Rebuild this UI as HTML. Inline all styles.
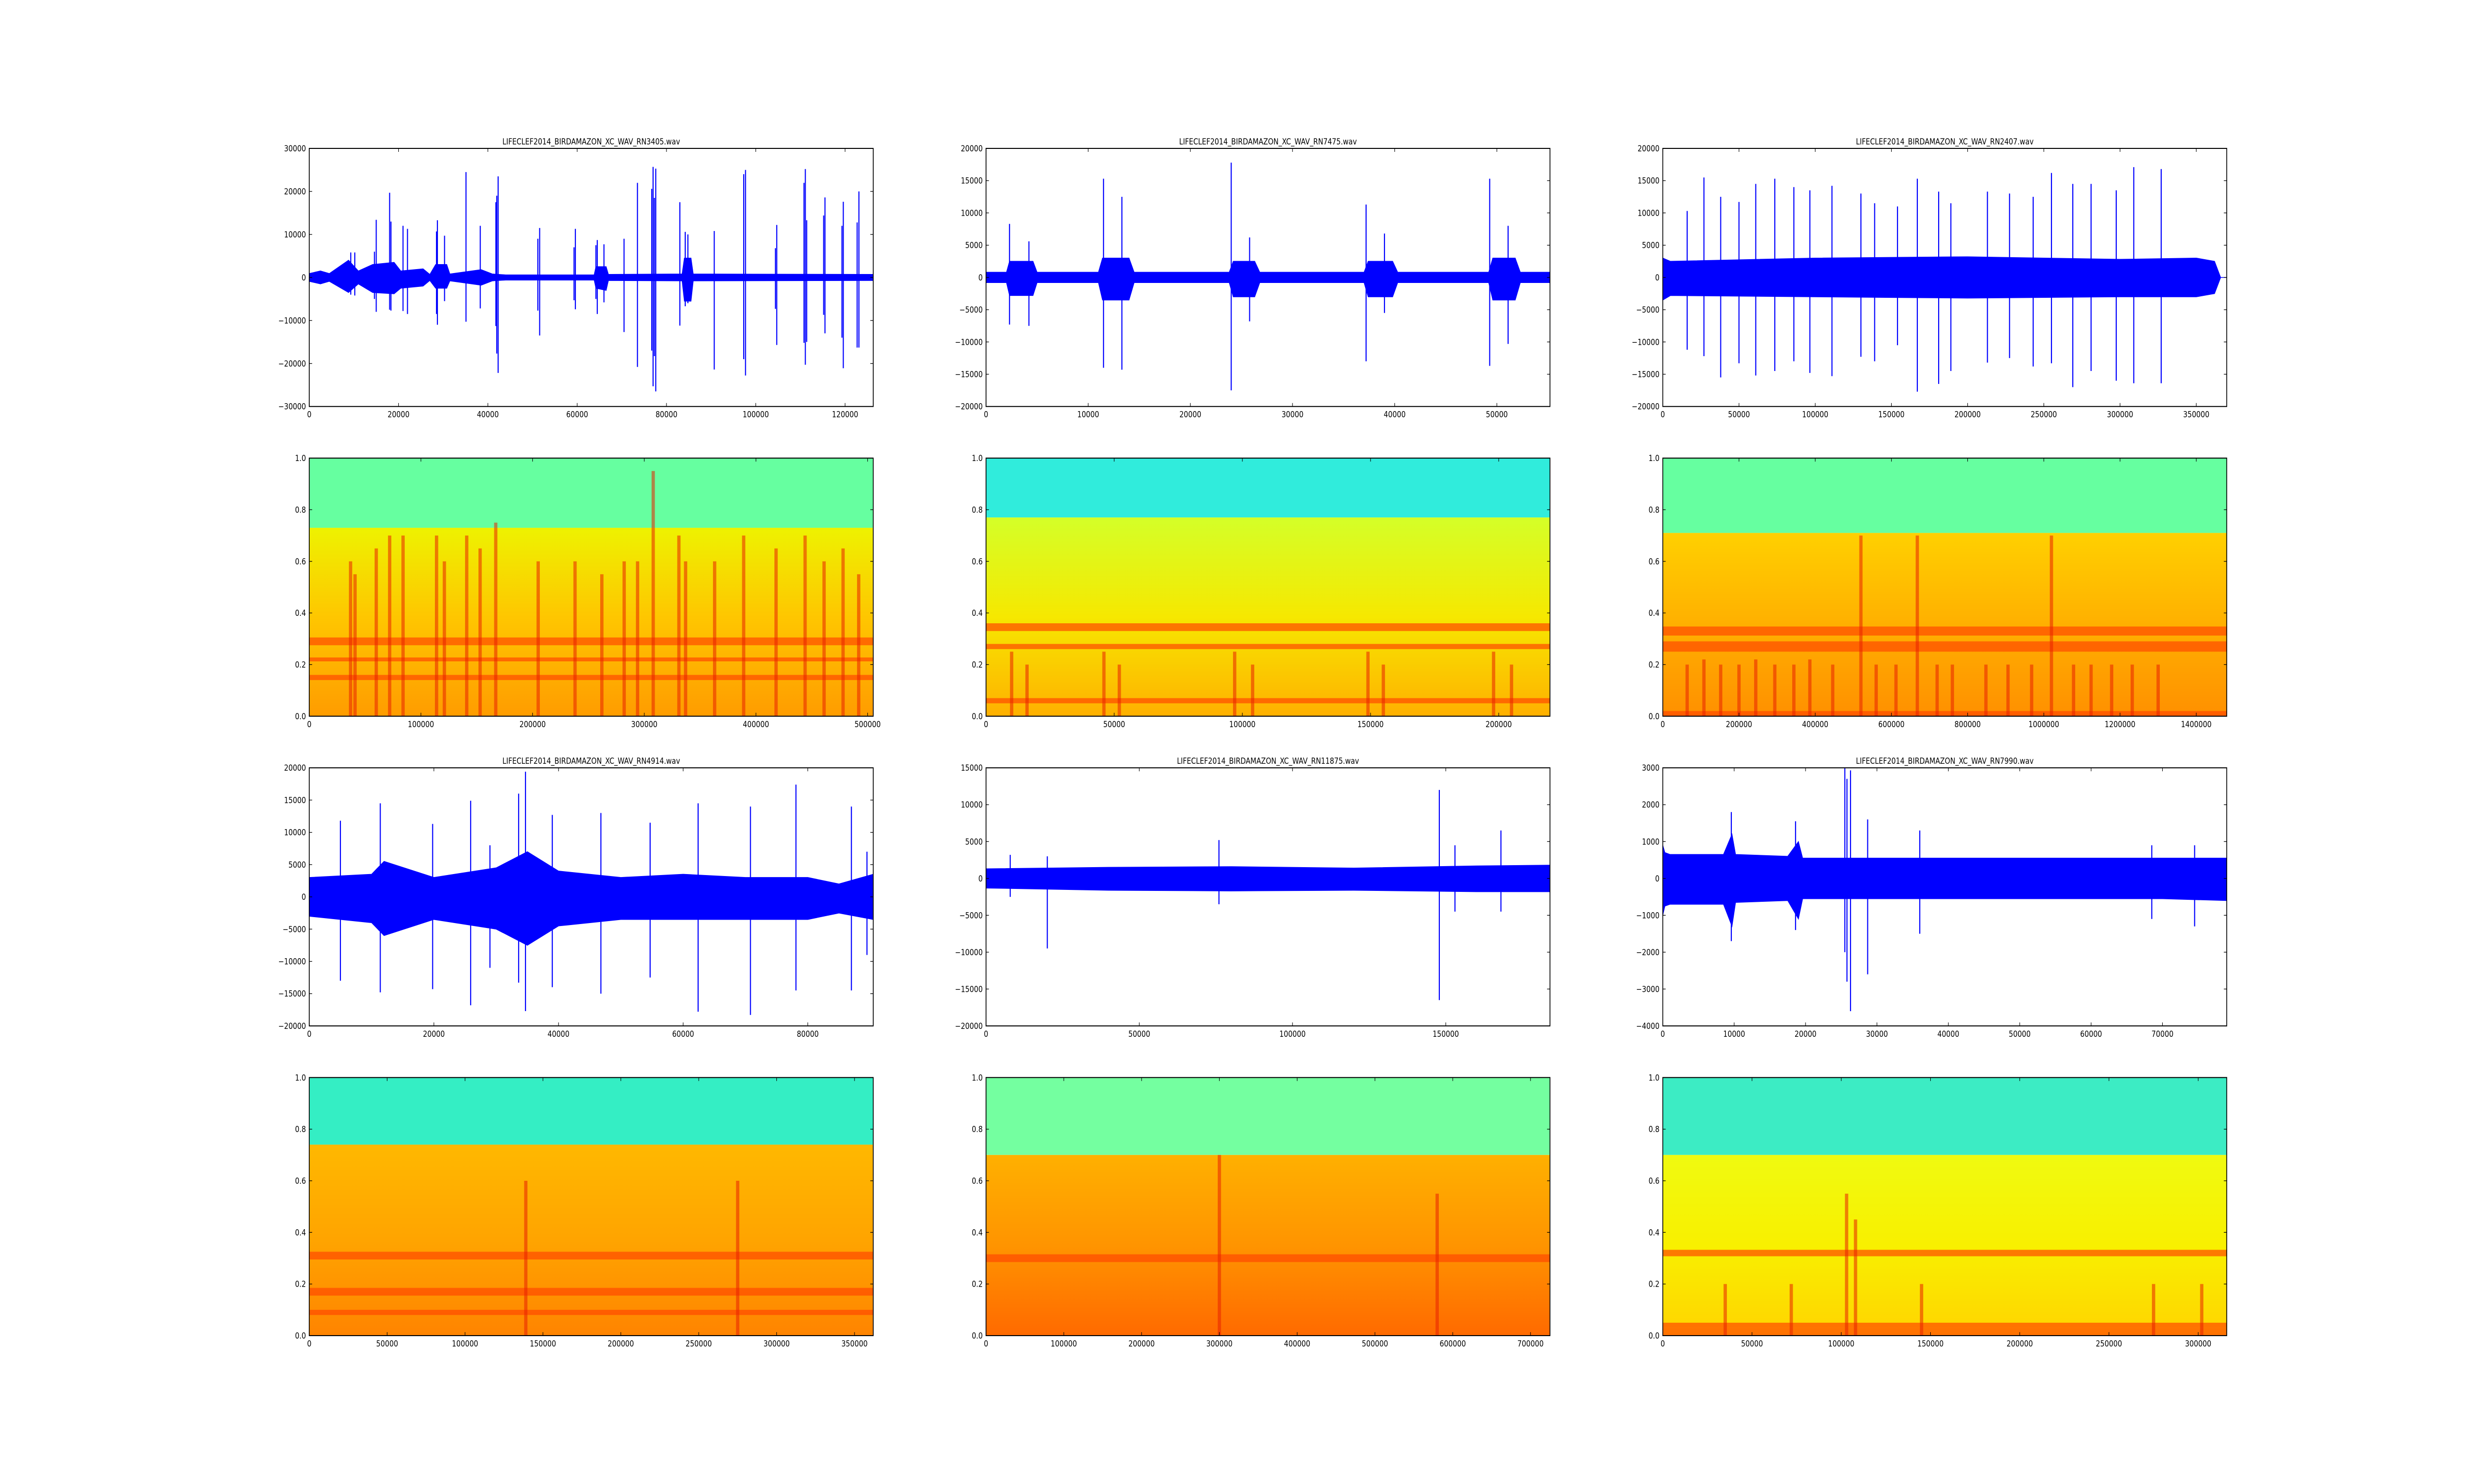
<!DOCTYPE html>
<html><head><meta charset="utf-8"><title>Bird recordings: waveforms and spectrograms</title>
<style>
html,body{margin:0;padding:0;background:#fff;width:100%;height:100%;overflow:hidden;}
svg{display:block;width:100vw;height:100vh;}
text{font-family:"DejaVu Sans","Liberation Sans",sans-serif;font-size:16.7px;fill:#000;}
</style></head>
<body>
<svg id="fig" xmlns="http://www.w3.org/2000/svg" viewBox="0 0 6000 3000" preserveAspectRatio="none">
<rect x="0" y="0" width="6000" height="3000" fill="#fff"/>
</svg>
<script>
// ---------- waveform data ----------
const w1Title = "LIFECLEF2014_BIRDAMAZON_XC_WAV_RN3405.wav";
const w1XTicks = [0,20000,40000,60000,80000,100000,120000];
const w1YTicks = [-30000,-20000,-10000,0,10000,20000,30000];
const w1XRange = [0,126300];
const w1EnvX = [0,2500,4500,8800,11000,14200,19000,20500,25500,27000,28300,30800,31500,38500,41000,44000,63800,64200,66500,67000,83500,84000,85500,86000,126300];
const w1EnvUp = [900,1500,900,4000,1500,3000,3500,1500,2000,700,3000,3000,800,1800,800,600,600,2500,2500,700,800,4500,4500,800,700];
const w1EnvDown = [-900,-1500,-900,-3500,-1500,-3500,-3800,-2500,-2000,-700,-2500,-2500,-800,-1800,-800,-600,-600,-2500,-3000,-700,-800,-5500,-5500,-800,-700];
const w1SpikeX = [9300,10200,14600,15000,18000,18300,21000,22000,28500,28700,30300,35100,38300,41800,42000,42300,51200,51600,59300,59600,64200,64500,66000,70500,73500,76700,77000,77300,77600,83000,84200,84800,90700,97300,97700,104400,104700,110800,111100,111400,115200,115500,119300,119600,122700,123100];
const w1SpikeUp = [5800,5800,6000,13400,19700,13000,12000,11300,10700,13300,9700,24500,12000,17500,19000,23500,9000,11500,7000,11300,7500,8700,7700,9000,22000,20600,25700,18500,25300,17500,10600,10000,10800,24000,25000,6800,12200,22000,25200,13300,14400,18600,12000,17600,12800,20000];
const w1SpikeDown = [-4000,-4200,-5000,-8000,-7500,-7700,-7800,-8500,-8500,-11000,-5500,-10300,-7200,-11300,-17700,-22200,-7700,-13500,-5300,-7400,-5000,-8500,-5800,-12700,-20800,-17000,-25300,-18300,-26500,-11200,-6700,-6000,-21400,-19000,-22800,-7300,-15700,-15200,-20300,-15000,-8700,-13000,-14000,-21100,-16300,-16300];

const w2Title = "LIFECLEF2014_BIRDAMAZON_XC_WAV_RN7475.wav";
const w2XTicks = [0,10000,20000,30000,40000,50000];
const w2YTicks = [-20000,-15000,-10000,-5000,0,5000,10000,15000,20000];
const w2XRange = [0,55200];
const w2EnvX = [0,2000,2300,4600,5000,11000,11400,14000,14500,23800,24200,26300,26800,37000,37400,39800,40300,49200,49600,51800,52300,55200];
const w2EnvUp = [800,800,2500,2500,800,800,3000,3000,800,800,2500,2500,800,800,2500,2500,800,800,3000,3000,800,800];
const w2EnvDown = [-800,-800,-2800,-2800,-800,-800,-3500,-3500,-800,-800,-3000,-3000,-800,-800,-3000,-3000,-800,-800,-3500,-3500,-800,-800];
const w2SpikeX = [2300,4200,11500,13300,24000,25800,37200,39000,49300,51100];
const w2SpikeUp = [8300,5600,15300,12500,17800,6200,11300,6800,15300,8000];
const w2SpikeDown = [-7300,-7500,-14000,-14300,-17500,-6800,-13000,-5500,-13700,-10300];

const w3Title = "LIFECLEF2014_BIRDAMAZON_XC_WAV_RN2407.wav";
const w3XTicks = [0,50000,100000,150000,200000,250000,300000,350000];
const w3YTicks = [-20000,-15000,-10000,-5000,0,5000,10000,15000,20000];
const w3XRange = [0,370000];
const w3EnvX = [0,5000,100000,200000,300000,350000,362000,366000,370000];
const w3EnvUp = [3000,2500,3000,3200,2800,3000,2500,0,0];
const w3EnvDown = [-3500,-2800,-3000,-3200,-3000,-3000,-2500,0,0];
const w3SpikeX = [16000,27000,38000,50000,61000,73500,86000,96500,111000,130000,139000,154000,167000,181000,189000,213000,227500,243000,255000,269000,281000,297500,309000,327000];
const w3SpikeUp = [10300,15500,12500,11700,14500,15300,14000,13500,14200,13000,11500,11000,15300,13300,11500,13300,13000,12500,16200,14500,14500,13500,17100,16800];
const w3SpikeDown = [-11200,-12200,-15500,-13300,-15200,-14500,-13000,-14800,-15300,-12300,-13000,-10500,-17700,-16500,-14500,-13200,-12500,-13800,-13300,-17000,-14500,-16000,-16400,-16400];

const w4Title = "LIFECLEF2014_BIRDAMAZON_XC_WAV_RN4914.wav";
const w4XTicks = [0,20000,40000,60000,80000];
const w4YTicks = [-20000,-15000,-10000,-5000,0,5000,10000,15000,20000];
const w4XRange = [0,90500];
const w4EnvX = [0,10000,12000,20000,30000,35000,40000,50000,60000,70000,80000,85000,90500];
const w4EnvUp = [3000,3500,5500,3000,4500,7000,4000,3000,3500,3000,3000,2000,3500];
const w4EnvDown = [-3000,-4000,-6000,-3500,-5000,-7500,-4500,-3500,-3500,-3500,-3500,-2500,-3500];
const w4SpikeX = [5000,11400,19800,25900,29000,33600,34700,39000,46800,54700,62400,70800,78100,87000,89500];
const w4SpikeUp = [11800,14500,11300,14900,8000,16000,19400,12700,13000,11500,14500,14000,17400,14000,7000];
const w4SpikeDown = [-13000,-14800,-14300,-16800,-11000,-13300,-17700,-14000,-15000,-12500,-17800,-18300,-14500,-14500,-9000];

const w5Title = "LIFECLEF2014_BIRDAMAZON_XC_WAV_RN11875.wav";
const w5XTicks = [0,50000,100000,150000];
const w5YTicks = [-20000,-15000,-10000,-5000,0,5000,10000,15000];
const w5XRange = [0,184000];
const w5EnvX = [0,40000,80000,120000,160000,184000];
const w5EnvUp = [1300,1500,1600,1400,1700,1800];
const w5EnvDown = [-1300,-1600,-1700,-1600,-1800,-1800];
const w5SpikeX = [7900,20000,76000,147900,153000,168000];
const w5SpikeUp = [3200,3000,5200,12000,4500,6500];
const w5SpikeDown = [-2500,-9500,-3500,-16500,-4500,-4500];

const w6Title = "LIFECLEF2014_BIRDAMAZON_XC_WAV_RN7990.wav";
const w6XTicks = [0,10000,20000,30000,40000,50000,60000,70000];
const w6YTicks = [-4000,-3000,-2000,-1000,0,1000,2000,3000];
const w6XRange = [0,79000];
const w6EnvX = [0,300,1000,8500,9700,10200,17500,19000,19600,70000,79000];
const w6EnvUp = [900,700,650,650,1200,650,600,1000,550,550,550];
const w6EnvDown = [-1000,-750,-700,-700,-1300,-650,-600,-1100,-550,-550,-600];
const w6SpikeX = [9600,18600,25500,25800,26300,28700,36000,68500,74500];
const w6SpikeUp = [1800,1550,3000,2700,2930,1600,1300,900,900];
const w6SpikeDown = [-1700,-1400,-2000,-2800,-3600,-2600,-1500,-1100,-1300];

// ---------- spectrogram data ----------
const sYTicks = [0.0,0.2,0.4,0.6,0.8,1.0];
const s1XTicks = [0,100000,200000,300000,400000,500000];
const s1XMax = 505000;
const s1Boundary = 0.73;
const s1Colors = ["#66ffa0","#eef200","#ffc400","#ff9c00"];
const s1BandF = [0.29,0.15,0.22];
const s1BandW = [0.03,0.02,0.015];
const s1StreakX = [37000,41000,60000,72000,84000,114000,121000,141000,153000,167000,205000,238000,262000,282000,294000,308000,331000,337000,363000,389000,418000,444000,461000,478000,492000];
const s1StreakTop = [0.6,0.55,0.65,0.7,0.7,0.7,0.6,0.7,0.65,0.75,0.6,0.6,0.55,0.6,0.6,0.95,0.7,0.6,0.6,0.7,0.65,0.7,0.6,0.65,0.55];

const s2XTicks = [0,50000,100000,150000,200000];
const s2XMax = 220000;
const s2Boundary = 0.77;
const s2Colors = ["#30ecdc","#d4ff28","#f6e800","#ffb000"];
const s2BandF = [0.345,0.27,0.06];
const s2BandW = [0.03,0.02,0.02];
const s2StreakX = [10000,16000,46000,52000,97000,104000,149000,155000,198000,205000];
const s2StreakTop = [0.25,0.2,0.25,0.2,0.25,0.2,0.25,0.2,0.25,0.2];

const s3XTicks = [0,200000,400000,600000,800000,1000000,1200000,1400000];
const s3XMax = 1480000;
const s3Boundary = 0.71;
const s3Colors = ["#66ffa0","#ffd000","#ffb000","#ff9000"];
const s3BandF = [0.33,0.27,0.01];
const s3BandW = [0.035,0.04,0.02];
const s3StreakX = [64000,108000,152000,200000,244000,294000,344000,386000,446000,520000,560000,612000,668000,720000,760000,848000,906000,968000,1020000,1078000,1124000,1178000,1232000,1300000];
const s3StreakTop = [0.2,0.22,0.2,0.2,0.22,0.2,0.2,0.22,0.2,0.7,0.2,0.2,0.7,0.2,0.2,0.2,0.2,0.2,0.7,0.2,0.2,0.2,0.2,0.2];

const s4XTicks = [0,50000,100000,150000,200000,250000,300000,350000];
const s4XMax = 362000;
const s4Boundary = 0.74;
const s4Colors = ["#34eec4","#ffb800","#ffa400","#ff8400"];
const s4BandF = [0.31,0.09,0.17];
const s4BandW = [0.03,0.02,0.03];
const s4StreakX = [139000,275000];
const s4StreakTop = [0.6,0.6];

const s5XTicks = [0,100000,200000,300000,400000,500000,600000,700000];
const s5XMax = 725000;
const s5Boundary = 0.70;
const s5Colors = ["#74ffa0","#ffb000","#ff9400","#ff6a00"];
const s5BandF = [0.30];
const s5BandW = [0.03];
const s5StreakX = [300000,580000];
const s5StreakTop = [0.7,0.55];

const s6XTicks = [0,50000,100000,150000,200000,250000,300000];
const s6XMax = 316000;
const s6Boundary = 0.70;
const s6Colors = ["#3cecc4","#f0fa10","#f8f000","#ffd400"];
const s6BandF = [0.32,0.015,0.04];
const s6BandW = [0.025,0.03,0.02];
const s6StreakX = [35000,72000,103000,108000,145000,275000,302000];
const s6StreakTop = [0.2,0.2,0.55,0.45,0.2,0.2,0.2];

// ---------- layout ----------
const AW = 1367.74, AH = 521.74;
const colX = [750, 2391.3, 4032.6];
const rowY = [300, 926.1, 1552.2, 2178.3];
const NS = "http://www.w3.org/2000/svg";
const svg = document.getElementById('fig');

function mk(tag, attrs, parent) {
  const e = document.createElementNS(NS, tag);
  for (const k in attrs) e.setAttribute(k, attrs[k]);
  (parent || svg).appendChild(e);
  return e;
}
function fmt(v) {
  return (v < 0 ? "\u2212" : "") + Math.abs(v);
}

function drawAxes(g, L, T, xmin, xmax, ymin, ymax, xTicks, yTicks, isFloatY, name) {
  const sx = v => L + (v - xmin) / (xmax - xmin) * AW;
  const sy = v => T + (ymax - v) / (ymax - ymin) * AH;
  const frame = mk('rect', {x: L, y: T, width: AW, height: AH, fill: 'none', stroke: '#000', 'stroke-width': 2}, g);
  
  
  xTicks.forEach(v => {
    const x = sx(v);
    mk('line', {x1: x, y1: T + AH, x2: x, y2: T + AH - 7, stroke: '#000', 'stroke-width': 1.3}, g);
    mk('line', {x1: x, y1: T, x2: x, y2: T + 7, stroke: '#000', 'stroke-width': 1.3}, g);
    const t = mk('text', {x: x, y: T + AH + 22, 'text-anchor': 'middle'}, g);
    t.textContent = fmt(v);
    
    
  });
  yTicks.forEach(v => {
    const y = sy(v);
    mk('line', {x1: L, y1: y, x2: L + 7, y2: y, stroke: '#000', 'stroke-width': 1.3}, g);
    mk('line', {x1: L + AW, y1: y, x2: L + AW - 7, y2: y, stroke: '#000', 'stroke-width': 1.3}, g);
    const t = mk('text', {x: L - 8, y: y + 6, 'text-anchor': 'end'}, g);
    t.textContent = isFloatY ? v.toFixed(1) : fmt(v);
    
    
  });
}

function drawWave(idx, r, c, title, xr, xTicks, yTicks, envX, envUp, envDown, spX, spUp, spDown) {
  const L = colX[c], T = rowY[r];
  const ymin = yTicks[0], ymax = yTicks[yTicks.length - 1];
  const g = mk('g', {});
  
  
  const sx = v => L + (v - xr[0]) / (xr[1] - xr[0]) * AW;
  const sy = v => T + (ymax - v) / (ymax - ymin) * AH;
  let d = '';
  envX.forEach((x, i) => { d += (i ? 'L' : 'M') + sx(x).toFixed(1) + ' ' + sy(envUp[i]).toFixed(1); });
  for (let i = envX.length - 1; i >= 0; i--) d += 'L' + sx(envX[i]).toFixed(1) + ' ' + sy(envDown[i]).toFixed(1);
  d += 'Z';
  const env = mk('path', {d: d, fill: '#0000ff', stroke: '#0000ff', 'stroke-width': 1.5}, g);
  
  
  spX.forEach((x, i) => {
    const ln = mk('line', {x1: sx(x), y1: sy(spUp[i]), x2: sx(x), y2: sy(spDown[i]), stroke: '#0000ff', 'stroke-width': 2.6}, g);
    
    
  });
  drawAxes(g, L, T, xr[0], xr[1], ymin, ymax, xTicks, yTicks, false, 'waveform-' + idx);
  const t = mk('text', {x: L + AW / 2, y: T - 8, 'text-anchor': 'middle'}, g);
  t.textContent = title;
  
  
}

function drawSpec(idx, r, c, xmax, xTicks, boundary, colors, bandF, bandW, stX, stTop) {
  const L = colX[c], T = rowY[r];
  const g = mk('g', {});
  
  
  const sx = v => L + v / xmax * AW;
  const sy = v => T + (1 - v) * AH;
  const gid = 'sg' + idx;
  const defs = mk('defs', {}, g);
  const lg = mk('linearGradient', {id: gid, x1: 0, y1: 0, x2: 0, y2: 1}, defs);
  mk('stop', {offset: '0', 'stop-color': colors[1]}, lg);
  mk('stop', {offset: '0.5', 'stop-color': colors[2]}, lg);
  mk('stop', {offset: '1', 'stop-color': colors[3]}, lg);
  const top = mk('rect', {x: L, y: sy(1), width: AW, height: sy(boundary) - sy(1), fill: colors[0]}, g);
  
  
  const low = mk('rect', {x: L, y: sy(boundary), width: AW, height: sy(0) - sy(boundary), fill: 'url(#' + gid + ')'}, g);
  
  
  bandF.forEach((f, i) => {
    const b = mk('rect', {x: L, y: sy(f + bandW[i] / 2), width: AW, height: sy(0) - sy(bandW[i]), fill: '#ff4800', opacity: 0.7}, g);
    
    
  });
  stX.forEach((x, i) => {
    const s = mk('rect', {x: sx(x) - 4, y: sy(stTop[i]), width: 8, height: sy(0) - sy(stTop[i]), fill: '#e82000', opacity: 0.55}, g);
    
    
  });
  drawAxes(g, L, T, 0, xmax, 0, 1, xTicks, sYTicks, true, 'spectrogram-' + idx);
}

drawWave(1, 0, 0, w1Title, w1XRange, w1XTicks, w1YTicks, w1EnvX, w1EnvUp, w1EnvDown, w1SpikeX, w1SpikeUp, w1SpikeDown);
drawWave(2, 0, 1, w2Title, w2XRange, w2XTicks, w2YTicks, w2EnvX, w2EnvUp, w2EnvDown, w2SpikeX, w2SpikeUp, w2SpikeDown);
drawWave(3, 0, 2, w3Title, w3XRange, w3XTicks, w3YTicks, w3EnvX, w3EnvUp, w3EnvDown, w3SpikeX, w3SpikeUp, w3SpikeDown);
drawWave(4, 2, 0, w4Title, w4XRange, w4XTicks, w4YTicks, w4EnvX, w4EnvUp, w4EnvDown, w4SpikeX, w4SpikeUp, w4SpikeDown);
drawWave(5, 2, 1, w5Title, w5XRange, w5XTicks, w5YTicks, w5EnvX, w5EnvUp, w5EnvDown, w5SpikeX, w5SpikeUp, w5SpikeDown);
drawWave(6, 2, 2, w6Title, w6XRange, w6XTicks, w6YTicks, w6EnvX, w6EnvUp, w6EnvDown, w6SpikeX, w6SpikeUp, w6SpikeDown);

drawSpec(1, 1, 0, s1XMax, s1XTicks, s1Boundary, s1Colors, s1BandF, s1BandW, s1StreakX, s1StreakTop);
drawSpec(2, 1, 1, s2XMax, s2XTicks, s2Boundary, s2Colors, s2BandF, s2BandW, s2StreakX, s2StreakTop);
drawSpec(3, 1, 2, s3XMax, s3XTicks, s3Boundary, s3Colors, s3BandF, s3BandW, s3StreakX, s3StreakTop);
drawSpec(4, 3, 0, s4XMax, s4XTicks, s4Boundary, s4Colors, s4BandF, s4BandW, s4StreakX, s4StreakTop);
drawSpec(5, 3, 1, s5XMax, s5XTicks, s5Boundary, s5Colors, s5BandF, s5BandW, s5StreakX, s5StreakTop);
drawSpec(6, 3, 2, s6XMax, s6XTicks, s6Boundary, s6Colors, s6BandF, s6BandW, s6StreakX, s6StreakTop);
</script>
</body></html>
